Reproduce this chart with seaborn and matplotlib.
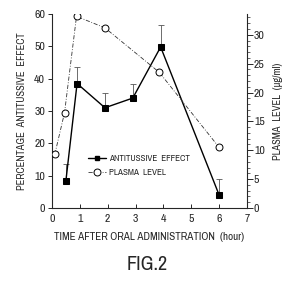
import numpy as np
import pandas as pd
import matplotlib
matplotlib.use('Agg')
import matplotlib.pyplot as plt
import seaborn as sns
from matplotlib.ticker import MultipleLocator

sns.set_style('ticks')
plt.rcParams['font.family'] = ['Archivo Narrow', 'DejaVu Sans']
plt.rcParams['axes.unicode_minus'] = False

# data
anti_time = [0.5, 0.9, 1.9, 2.9, 3.9, 6.0]
anti_effect = [8.5, 38.5, 31.0, 34.0, 49.8, 4.0]
anti_err = [5.0, 5.0, 4.5, 4.5, 6.7, 5.0]

plasma_time = [0.1, 0.45, 0.88, 1.9, 3.85, 6.0]
plasma_level = [9.3, 16.5, 33.2, 31.2, 23.5, 10.5]

x_ticks = [0, 1, 2, 3, 4, 5, 6, 7]
left_ticks = [0, 10, 20, 30, 40, 50, 60]
right_ticks = [0, 5, 10, 15, 20, 25, 30]

df_anti = pd.DataFrame({'time': anti_time, 'effect': anti_effect, 'err': anti_err})
df_plasma = pd.DataFrame({'time': plasma_time, 'level': plasma_level})

fig = plt.figure(figsize=(3.0, 2.84), dpi=100)
ax = fig.add_axes([52 / 300, 1 - 208 / 284, 195 / 300, 194 / 284])
ax2 = ax.twinx()

# antitussive effect
ax.errorbar(df_anti['time'], df_anti['effect'],
            yerr=[np.zeros(len(df_anti)), df_anti['err']],
            fmt='none', ecolor='#555555', elinewidth=0.6, capsize=2.5, capthick=0.6, zorder=3)
sns.lineplot(data=df_anti, x='time', y='effect', ax=ax, color='black',
             marker='s', markersize=4, markeredgecolor='black', linewidth=1.0,
             zorder=4, legend=False)

# plasma level
sns.lineplot(data=df_plasma, x='time', y='level', ax=ax2, color='#333333',
             marker='o', markersize=5, markerfacecolor='white', markeredgecolor='black',
             markeredgewidth=0.7, linewidth=0.6, linestyle=(0, (5, 2, 1, 2)),
             zorder=4, legend=False)

ax.set_xlim(0, 7)
ax.set_ylim(0, 60)
ax2.set_ylim(0, 33.6)
ax.set_xticks(x_ticks)
ax.set_yticks(left_ticks)
ax2.set_yticks(right_ticks)
ax2.yaxis.set_minor_locator(MultipleLocator(1))

for a in (ax, ax2):
    a.spines['top'].set_visible(False)
    for s in a.spines.values():
        s.set_linewidth(0.8)
ax.spines['right'].set_visible(False)
ax2.spines['left'].set_visible(False)
ax2.spines['bottom'].set_visible(False)

ax.tick_params(axis='x', direction='in', length=3, width=0.7, labelsize=8.5, pad=4)
ax.tick_params(axis='y', direction='out', length=3, width=0.7, labelsize=8.5, pad=2)
ax2.tick_params(axis='y', which='major', direction='out', length=4, width=0.7, labelsize=8.5, pad=1)
ax2.tick_params(axis='y', which='minor', direction='out', length=2, width=0.5)

ax.set_xlabel('TIME AFTER ORAL ADMINISTRATION  (hour)', fontsize=8, labelpad=6)
ax.set_ylabel('PERCENTAGE  ANTITUSSIVE  EFFECT', fontsize=7.5, labelpad=5)
ax2.set_ylabel('PLASMA  LEVEL  (μg/ml)', fontsize=7.5, labelpad=6)

h1, = ax.plot([], [], color='black', marker='s', markersize=3.5, linewidth=1.0)
h2, = ax.plot([], [], color='#333333', marker='o', markersize=5, markerfacecolor='white',
              markeredgecolor='black', markeredgewidth=0.7, linewidth=0.6,
              linestyle=(0, (5, 2, 1, 2)))
ax.legend([h1, h2], ['ANTITUSSIVE  EFFECT', 'PLASMA  LEVEL'], loc='upper left',
          bbox_to_anchor=(0.16, 0.3), frameon=False, fontsize=6.5,
          handlelength=2.0, handletextpad=0.4, labelspacing=0.5, borderpad=0)

fig.text(147 / 300, 1 - 264.5 / 284, 'FIG.2', ha='center', va='center', fontsize=14.5)

fig.savefig('out.png', dpi=100)
